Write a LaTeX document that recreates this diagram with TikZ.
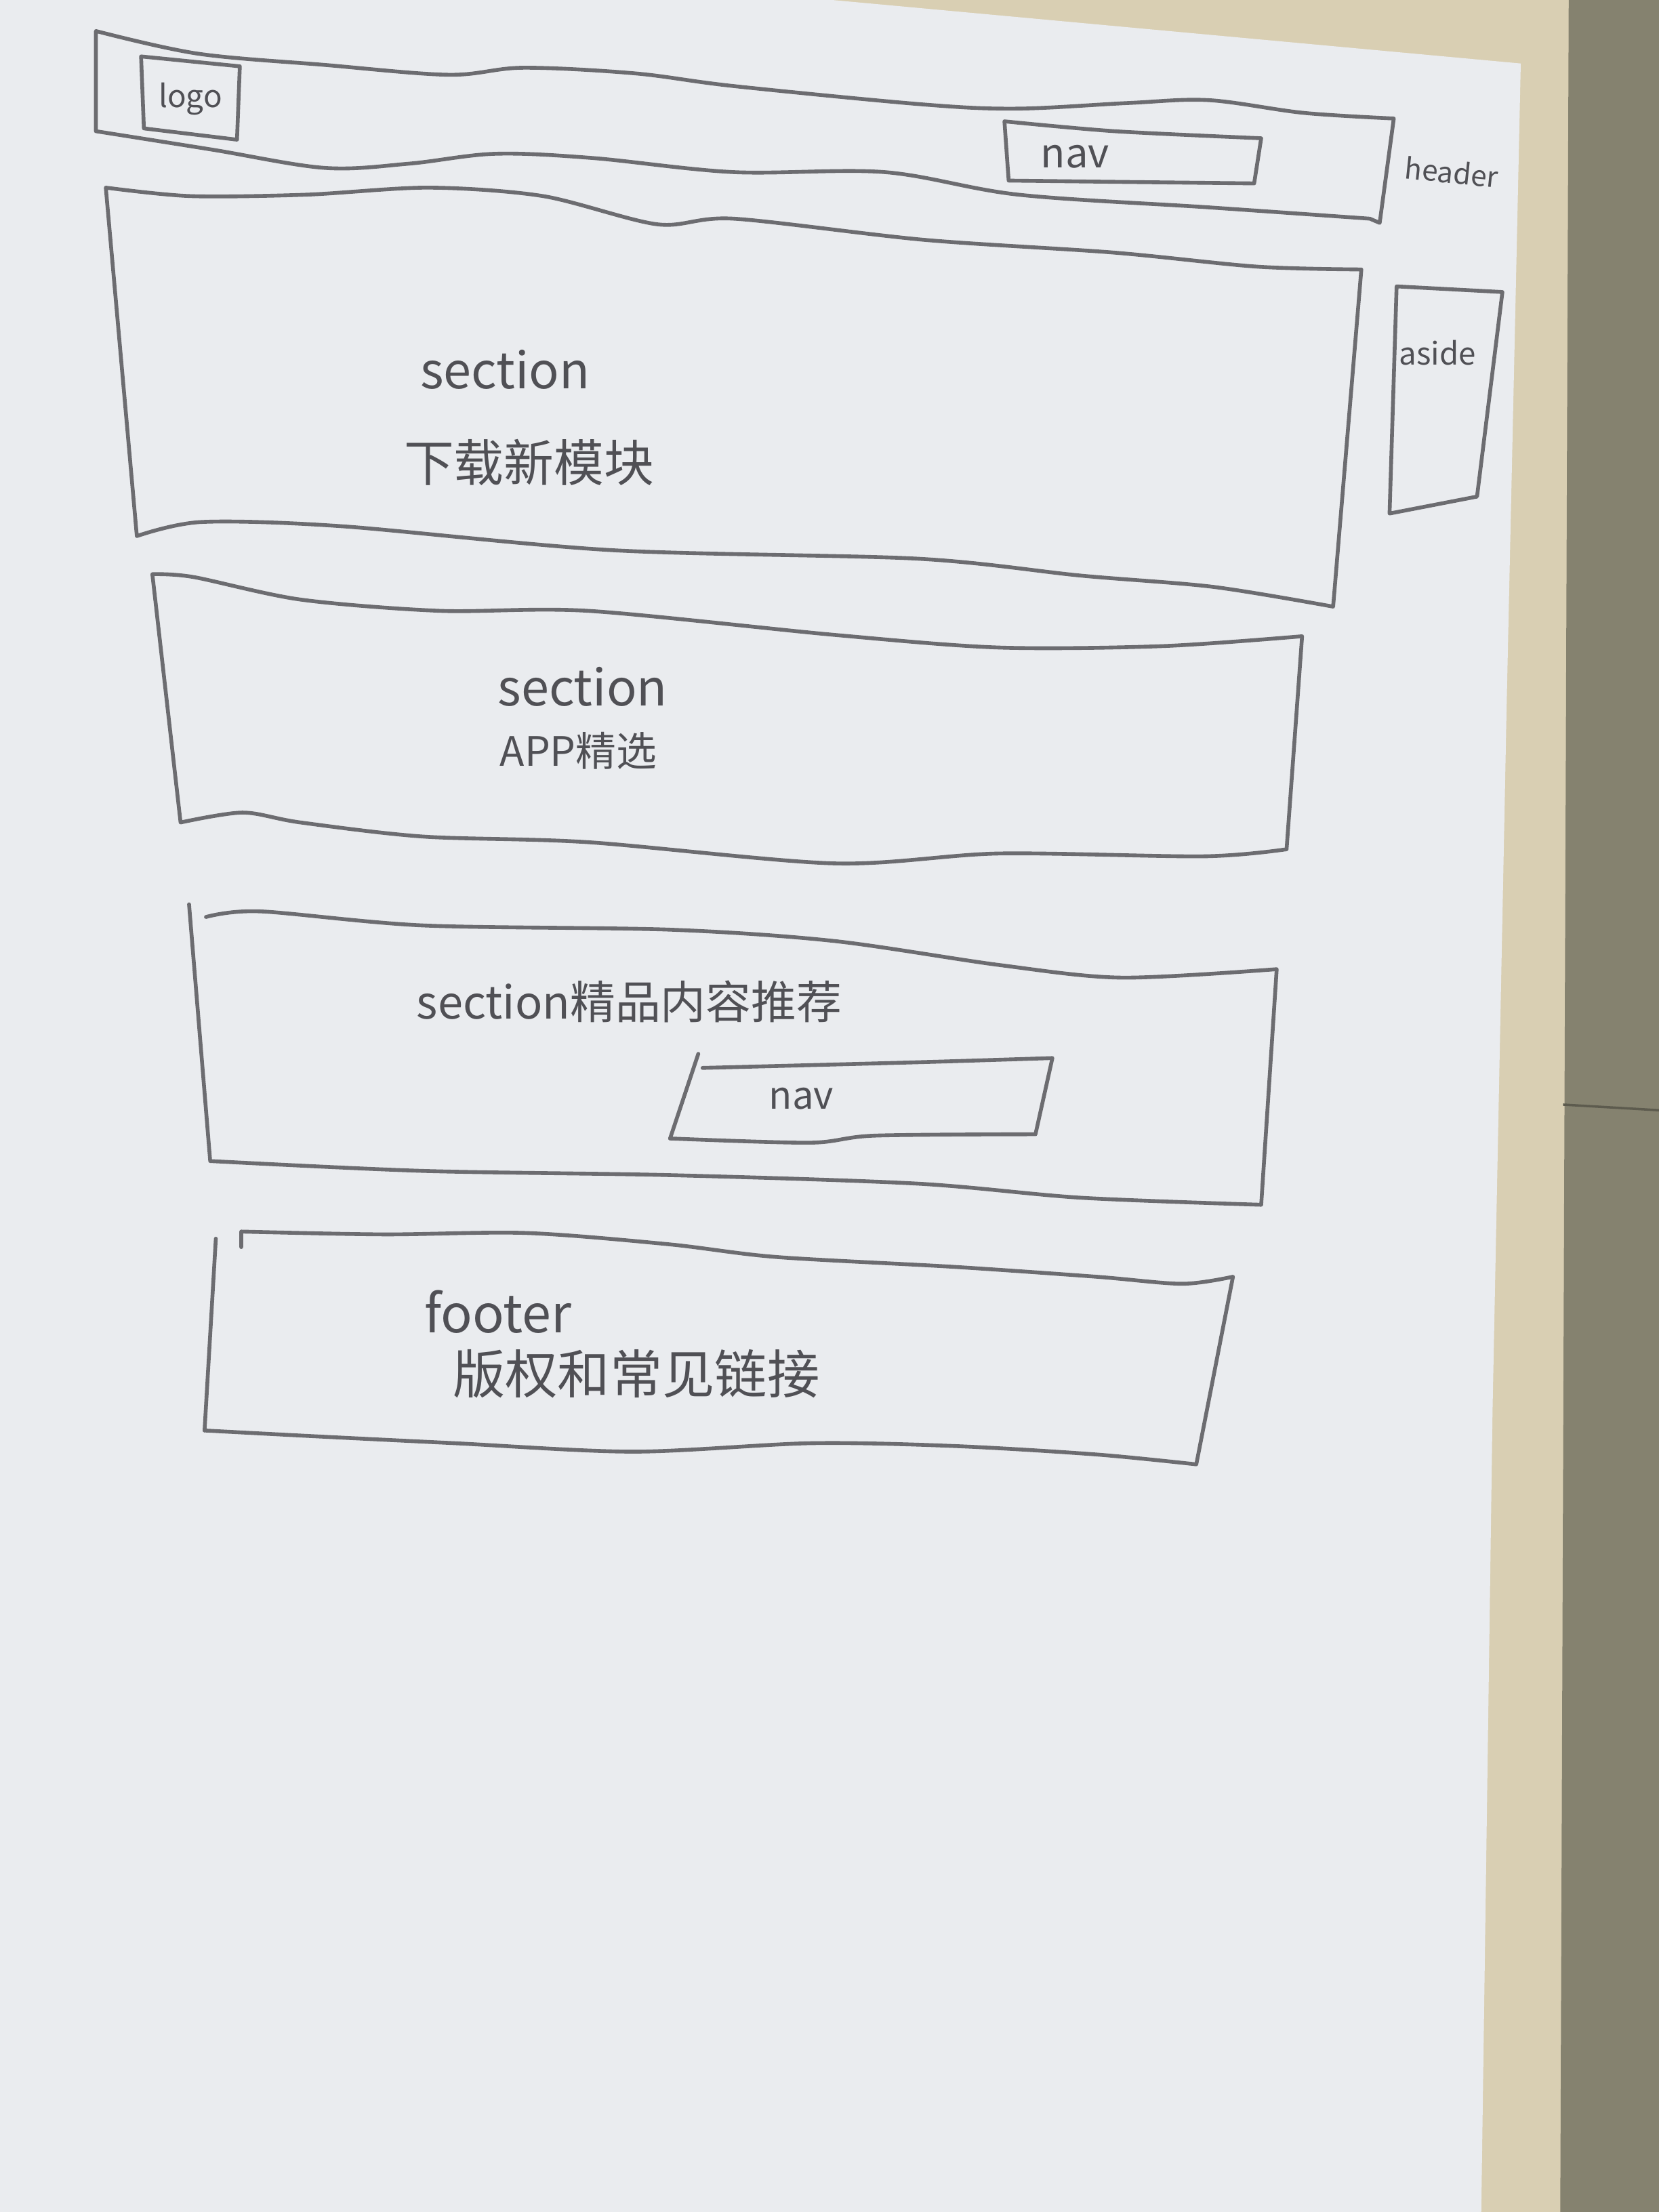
\documentclass[tikz,border=0pt]{standalone}
\usepackage{fontspec}
\setmainfont{Noto Sans CJK SC}
\definecolor{paper}{HTML}{EAECEF}
\definecolor{wood}{HTML}{D9CFB3}
\definecolor{wall}{HTML}{85826F}
\definecolor{pencil}{HTML}{6C6C70}
\definecolor{ink}{HTML}{505055}
\tikzset{
  sketch/.style={draw=pencil, line width=1.6pt, line join=round, line cap=round},
  lbl/.style={text=ink, inner sep=0pt, anchor=center},
}
\newcommand{\fsz}[1]{\fontsize{#1}{#1}\selectfont}
\begin{document}
\begin{tikzpicture}[x=0.020816cm, y=-0.020816cm]
\useasboundingbox (0,0) rectangle (1176,1568);
% photo background
\fill[wood] (0,0) rectangle (1176,1568);
\fill[wall] (1112,0) -- (1176,0) -- (1176,1568) -- (1106,1568) -- cycle;
\draw[wall!70!black, line width=1pt] (1108,783) -- (1176,787);
\fill[paper] (0,0) -- (590,0) -- (1078,45) -- (1068,500) -- (1058,1000) -- (1050,1568) -- (0,1568) -- cycle;

% header
\draw[sketch] plot[smooth, tension=0.55] coordinates {(68,22) (140,38) (230,46) (318,53) (371,48) (450,52) (520,61) (654,74) (721,77) (800,73) (857,71) (924,80) (988,84)}
  -- (978,158)
  -- plot[smooth, tension=0.55] coordinates {(971,155) (857,147) (722,138) (627,122) (520,122) (420,112) (351,109) (290,116) (230,119) (150,106) (68,93)} -- cycle;
\draw[sketch] (100,40) -- (170,47) -- (168,99) -- (102,91) -- cycle;
\node[lbl, font=\fsz{13pt}] (logo) at (135,70) {logo};
\draw[sketch] plot[smooth] coordinates {(712,86) (790,93) (894,98)} -- (889,130) -- plot[smooth] coordinates {(889,130) (800,129) (715,128)} -- cycle;
\node[lbl, font=\fsz{17pt}] (hnav) at (762,111) {nav};
\node[lbl, font=\fsz{12pt}, rotate=-6] (header) at (1029,122) {header};

% section 1
\draw[sketch] plot[smooth] coordinates {(75,133) (135,139) (217,138) (304,133) (385,139) (466,159) (520,155) (655,170) (789,179) (891,189) (965,191)}
  -- plot[smooth] coordinates {(945,430) (860,416) (766,408) (650,396) (434,390) (242,373) (143,370) (97,380)} -- cycle;
\node[lbl, font=\fsz{21pt}] (s1a) at (358,262) {section};
\node[lbl, font=\fsz{21pt}] (s1b) at (375,328) {下载新模块};

% aside
\draw[sketch] (990,203) -- (1065,207) -- (1047,352) -- (985,364) -- cycle;
\node[lbl, font=\fsz{13pt}] (aside) at (1019,250) {aside};

% section 2
\draw[sketch] plot[smooth] coordinates {(108,407) (137,409) (213,425) (312,433) (417,433) (591,450) (708,459) (824,458) (923,451)}
  -- plot[smooth] coordinates {(912,602) (853,607) (708,605) (591,612) (417,597) (300,593) (213,583) (172,576) (128,583)} -- cycle;
\node[lbl, font=\fsz{21pt}] (s2a) at (413,487) {section};
\node[lbl, font=\fsz{17pt}] (s2b) at (410,532) {APP精选};

% section 3
\draw[sketch] plot[smooth] coordinates {(146,650) (184,646) (300,656) (475,659) (591,667) (708,684) (795,693) (905,687)}
  -- plot[smooth] coordinates {(894,854) (766,849) (650,839) (475,833) (300,830) (149,823)} -- (134,641);
\node[lbl, font=\fsz{19pt}] (s3) at (446,710) {section精品内容推荐};
\draw[sketch] (495,747) -- (475,807);
\draw[sketch] plot[smooth] coordinates {(498,757) (650,753) (746,750)} -- plot[smooth] coordinates {(734,804) (620,805) (574,810) (475,807)};
\node[lbl, font=\fsz{16pt}] (nav3) at (568,779) {nav};

% footer
\draw[sketch] (153,878) -- (145,1014);
\draw[sketch] (171,884) -- plot[smooth] coordinates {(171,873) (272,875) (373,874) (474,882) (550,891) (676,898) (777,905) (838,910) (874,905)}
  -- plot[smooth] coordinates {(848,1038) (777,1031) (676,1025) (575,1023) (449,1029) (322,1023) (221,1018) (145,1014)};
\node[lbl, font=\fsz{22pt}] (f1) at (353,930) {footer};
\node[lbl, font=\fsz{22pt}] (f2) at (451,974) {版权和常见链接};
\end{tikzpicture}
\end{document}
